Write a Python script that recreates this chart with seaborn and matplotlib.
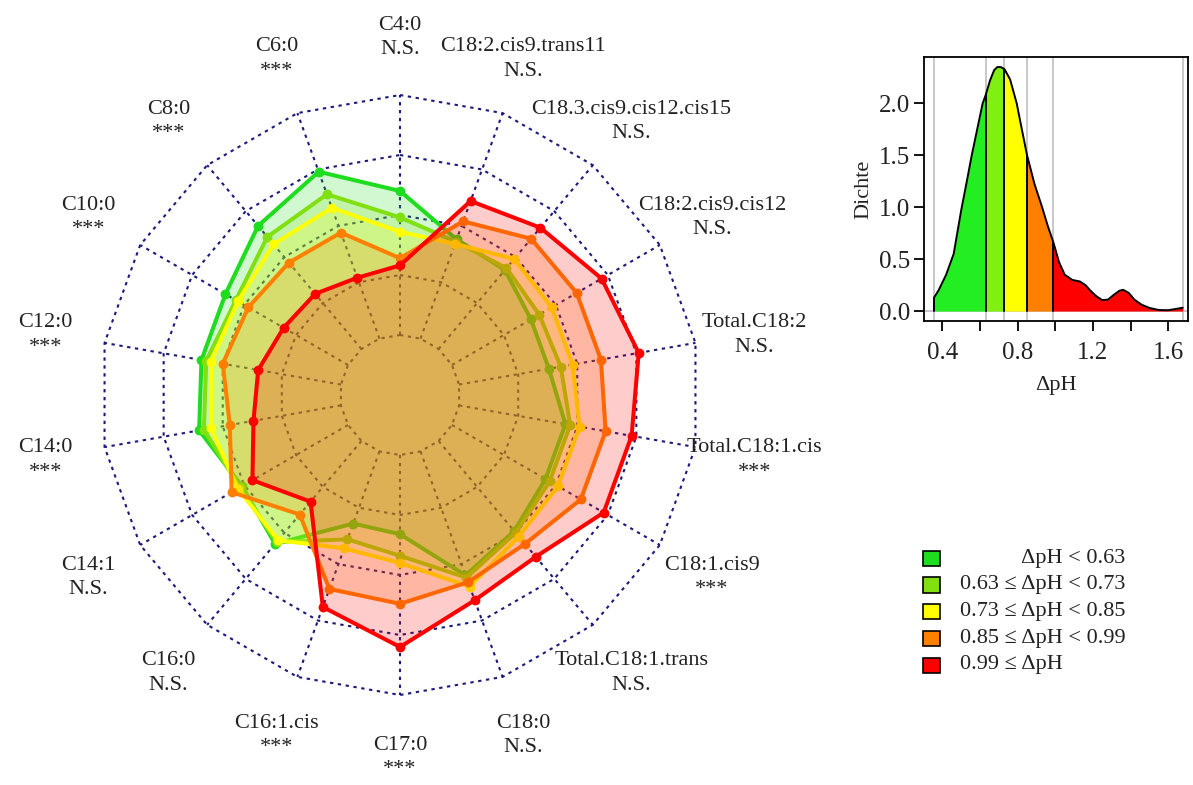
import numpy as np
import matplotlib
matplotlib.use("Agg")
import matplotlib.pyplot as plt
import seaborn as sns
from matplotlib.patches import Rectangle

# ---------------- data ----------------
variables = ["C4:0", "C18:2.cis9.trans11", "C18.3.cis9.cis12.cis15", "C18:2.cis9.cis12",
             "Total.C18:2", "Total.C18:1.cis", "C18:1.cis9", "Total.C18:1.trans", "C18:0",
             "C17:0", "C16:1.cis", "C16:0", "C14:1", "C14:0", "C12:0", "C10:0", "C8:0", "C6:0"]
signif = ["N.S.", "N.S.", "N.S.", "N.S.", "N.S.", "***", "***", "N.S.", "N.S.",
          "***", "***", "N.S.", "N.S.", "***", "***", "***", "***", "***"]

group_labels = ["\u0394pH < 0.63", "0.63 \u2264 \u0394pH < 0.73", "0.73 \u2264 \u0394pH < 0.85",
                "0.85 \u2264 \u0394pH < 0.99", "0.99 \u2264 \u0394pH"]
group_colors = ["#1EDC1E", "#80E010", "#FFFF00", "#FF8000", "#FF0000"]
dens_colors = ["#22EE22", "#80F010", "#FFFF00", "#FF8000", "#FF0000"]

# scaled values (0 = minimum, 1 = maximum of each variable)
g_lt063 = [0.60, 0.44, 0.43, 0.38, 0.38, 0.45, 0.45, 0.49, 0.55, 0.33, 0.32, 0.56, 0.51, 0.60, 0.59, 0.59, 0.67, 0.74]
g_063_073 = [0.49, 0.43, 0.44, 0.42, 0.43, 0.47, 0.47, 0.50, 0.56, 0.42, 0.39, 0.55, 0.52, 0.58, 0.57, 0.54, 0.61, 0.64]
g_073_085 = [0.43, 0.42, 0.49, 0.48, 0.48, 0.51, 0.51, 0.52, 0.60, 0.45, 0.43, 0.54, 0.53, 0.55, 0.55, 0.53, 0.57, 0.58]
g_085_099 = [0.32, 0.52, 0.60, 0.60, 0.60, 0.62, 0.62, 0.56, 0.58, 0.62, 0.61, 0.40, 0.56, 0.47, 0.50, 0.48, 0.47, 0.47]
g_ge099 = [0.29, 0.61, 0.66, 0.72, 0.76, 0.73, 0.73, 0.63, 0.66, 0.80, 0.69, 0.33, 0.46, 0.37, 0.35, 0.31, 0.30, 0.27]
groups = [g_lt063, g_063_073, g_073_085, g_085_099, g_ge099]

# density of delta pH (curve)
dens_x = [0.356, 0.38, 0.42, 0.46, 0.50, 0.53, 0.556, 0.585, 0.614, 0.63, 0.653, 0.675, 0.692,
          0.71, 0.73, 0.76, 0.795, 0.82, 0.85, 0.89, 0.93, 0.96, 0.99, 1.02, 1.05, 1.09, 1.13,
          1.16, 1.19, 1.22, 1.25, 1.28, 1.31, 1.34, 1.36, 1.39, 1.42, 1.46, 1.50, 1.55, 1.60,
          1.64, 1.677]
dens_y = [0.13, 0.20, 0.35, 0.55, 0.97, 1.25, 1.50, 1.75, 2.00, 2.08, 2.22, 2.32, 2.35,
          2.35, 2.33, 2.23, 2.00, 1.77, 1.50, 1.22, 1.00, 0.82, 0.66, 0.47, 0.35, 0.30, 0.285,
          0.25, 0.19, 0.14, 0.105, 0.11, 0.155, 0.195, 0.205, 0.175, 0.11, 0.06, 0.03, 0.01, 0.008,
          0.02, 0.032]
breaks = [0.356, 0.63, 0.73, 0.85, 0.99, 1.677]

# ---------------- style ----------------
sns.set_style("white")
plt.rcParams['font.family'] = ['Liberation Serif', 'DejaVu Serif']
FS = 16
FSD = 18
TXT = "#222222"

W, H = 1193, 785
fig = plt.figure(figsize=(W / 100, H / 100), dpi=100)

def fx(px):
    return px / W

def fy(py):
    return 1 - py / H

# ---------------- radar ----------------
R = 300.0
cx, cy = 400.0, 395.0
ax = fig.add_axes([0, 0, 800 / W, 1])
ax.set_xlim(-cx / R, (800 - cx) / R)
ax.set_ylim(-(H - cy) / R, cy / R)
ax.axis("off")

n = len(variables)
ang = np.deg2rad(np.arange(n) * 360.0 / n)
ux, uy = np.sin(ang), np.cos(ang)
navy = "#1a1a7a"
dot = (0, (1.6, 2.2))
for k in range(1, 6):
    rr = k / 5
    ax.plot(np.append(ux, ux[0]) * rr, np.append(uy, uy[0]) * rr, color=navy, lw=1.5,
            ls=dot, zorder=1)
for i in range(n):
    ax.plot([ux[i] * 0.2, ux[i]], [uy[i] * 0.2, uy[i]], color=navy, lw=1.5, ls=dot, zorder=1)

for gi, (vals, col) in enumerate(zip(groups, group_colors)):
    r = (1 + 4 * np.asarray(vals)) / 5
    xs, ys = ux * r, uy * r
    xc, yc = np.append(xs, xs[0]), np.append(ys, ys[0])
    z = 2 + 3 * gi
    ax.fill(xc, yc, color=col, alpha=0.2, lw=0, zorder=z)
    sns.lineplot(x=xc, y=yc, sort=False, estimator=None, color=col, lw=2.9, ax=ax, zorder=z + 1)
    sns.scatterplot(x=xs, y=ys, color=col, s=50, linewidth=0, ax=ax, zorder=z + 2)

for i in range(n):
    ax.text(ux[i] * 1.2, uy[i] * 1.2 - 0.008, variables[i] + "\n" + signif[i], ha="center",
            va="center", fontsize=FS, linespacing=1.4, color=TXT)

# ---------------- density ----------------
l, rgt, t, b = 924.3, 1188.0, 57.3, 320.7
dax = fig.add_axes([fx(l), fy(b), fx(rgt) - fx(l), fy(t) - fy(b)])
dx = np.asarray(dens_x)
dy = np.asarray(dens_y)
for xb in breaks:
    dax.axvline(xb, color="#c8c8c8", lw=1.4, zorder=0)
dax.axhline(0, color="#c8c8c8", lw=1.4, zorder=0)
for j in range(5):
    m = (dx >= breaks[j] - 1e-9) & (dx <= breaks[j + 1] + 1e-9)
    dax.fill_between(dx[m], 0, dy[m], color=dens_colors[j], lw=0, zorder=2)
sns.lineplot(x=dx, y=dy, color="black", lw=1.4, ax=dax, zorder=3)
for j, xb in enumerate(breaks[:-1]):
    hgt = np.interp(xb, dx, dy)
    dax.plot([xb, xb], [0, hgt], color="black", lw=1.4, zorder=3)

dax.set_xlim(0.304, 1.705)
dax.set_ylim(-0.093, 2.444)
dax.set_xticks([0.4, 0.6, 0.8, 1.0, 1.2, 1.4, 1.6])
dax.set_xticklabels(["0.4", "", "0.8", "", "1.2", "", "1.6"])
dax.set_yticks([0.0, 0.5, 1.0, 1.5, 2.0])
dax.set_yticklabels(["0.0", "0.5", "1.0", "1.5", "2.0"])
dax.tick_params(axis="both", direction="out", length=7, width=1.3, labelsize=FSD,
                left=True, bottom=True, colors="black", labelcolor=TXT)
dax.tick_params(axis="x", pad=8)
dax.tick_params(axis="y", pad=3)
for s in dax.spines.values():
    s.set_color("black")
    s.set_linewidth(1.3)
dax.set_xlabel("\u0394pH", fontsize=FS, color=TXT, labelpad=9)
dax.set_ylabel("Dichte", fontsize=FS, color=TXT, labelpad=4)

# ---------------- legend ----------------
rows = [558.3, 585.0, 611.7, 638.3, 665.0]
for j, (lab, col) in enumerate(zip(group_labels, group_colors)):
    py = rows[j]
    fig.patches.append(Rectangle((fx(923), fy(py + 7.5)), fx(940) - fx(923), fy(py - 7.5) - fy(py + 7.5),
                                 transform=fig.transFigure, facecolor=col, edgecolor="black", lw=1.2))
    if j == 0:
        fig.text(fx(1125), fy(py), lab, ha="right", va="center", fontsize=FS, color=TXT)
    else:
        fig.text(fx(960), fy(py), lab, ha="left", va="center", fontsize=FS, color=TXT)

fig.savefig("out.png", dpi=100)
